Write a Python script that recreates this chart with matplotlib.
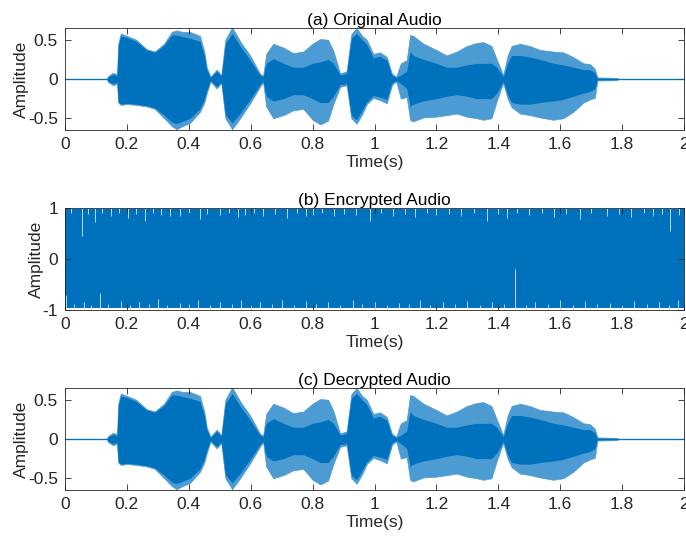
import matplotlib.pyplot as plt
import numpy as np

plt.rcParams['font.family'] = ['Liberation Sans', 'DejaVu Sans']

# envelope of the speech waveform
t_env = [0, 0.135, 0.14, 0.155, 0.168, 0.172, 0.18, 0.2, 0.23, 0.264, 0.29, 0.32, 0.345, 0.36, 0.38,
         0.404, 0.436, 0.45, 0.458, 0.47, 0.49, 0.505, 0.518, 0.54, 0.566, 0.598, 0.63, 0.64, 0.65,
         0.673, 0.706, 0.737, 0.77, 0.80, 0.825, 0.85, 0.867, 0.889, 0.91, 0.925, 0.942, 0.96, 0.975,
         0.996, 1.018, 1.04, 1.056, 1.07, 1.085, 1.104, 1.115, 1.125, 1.158, 1.2, 1.233, 1.266, 1.298,
         1.33, 1.352, 1.378, 1.395, 1.416, 1.43, 1.443, 1.47, 1.502, 1.535, 1.578, 1.61, 1.642, 1.675,
         1.696, 1.712, 1.72, 1.78, 1.79, 2.0]
peak_hi = [0.005, 0.005, 0.04, 0.08, 0.06, 0.45, 0.58, 0.55, 0.5, 0.38, 0.35, 0.45, 0.6, 0.62, 0.6,
           0.6, 0.55, 0.35, 0.15, 0.03, 0.12, 0.05, 0.5, 0.66, 0.48, 0.3, 0.07, 0.04, 0.32,
           0.45, 0.4, 0.33, 0.35, 0.45, 0.51, 0.5, 0.36, 0.07, 0.1, 0.57, 0.65, 0.55, 0.5,
           0.32, 0.34, 0.28, 0.07, 0.03, 0.2, 0.24, 0.56, 0.55, 0.45, 0.37, 0.3, 0.35, 0.42,
           0.46, 0.47, 0.42, 0.25, 0.05, 0.3, 0.42, 0.45, 0.42, 0.37, 0.35, 0.34, 0.28, 0.2,
           0.19, 0.13, 0.02, 0.015, 0.005, 0.005]
peak_lo = [-0.005, -0.005, -0.04, -0.08, -0.06, -0.3, -0.33, -0.32, -0.33, -0.35, -0.38, -0.5, -0.6, -0.64, -0.6,
           -0.56, -0.42, -0.3, -0.18, -0.03, -0.12, -0.05, -0.5, -0.64, -0.5, -0.31, -0.1, -0.04, -0.35,
           -0.5, -0.46, -0.4, -0.38, -0.52, -0.58, -0.53, -0.32, -0.1, -0.08, -0.5, -0.57, -0.45, -0.32,
           -0.24, -0.27, -0.31, -0.08, -0.03, -0.25, -0.23, -0.52, -0.54, -0.49, -0.48, -0.46, -0.44, -0.48,
           -0.5, -0.52, -0.5, -0.28, -0.05, -0.25, -0.36, -0.44, -0.46, -0.49, -0.52, -0.5, -0.42, -0.3,
           -0.26, -0.24, -0.02, -0.015, -0.005, -0.005]
core_hi = [0.003, 0.003, 0.03, 0.06, 0.04, 0.42, 0.55, 0.53, 0.48, 0.37, 0.34, 0.43, 0.56, 0.56, 0.54,
           0.52, 0.48, 0.3, 0.12, 0.02, 0.1, 0.04, 0.45, 0.58, 0.42, 0.24, 0.05, 0.03, 0.2,
           0.26, 0.2, 0.15, 0.15, 0.2, 0.22, 0.25, 0.2, 0.05, 0.07, 0.52, 0.58, 0.5, 0.44,
           0.27, 0.29, 0.24, 0.05, 0.02, 0.05, 0.1, 0.35, 0.3, 0.25, 0.2, 0.15, 0.15, 0.18,
           0.2, 0.2, 0.2, 0.15, 0.03, 0.2, 0.3, 0.3, 0.28, 0.25, 0.2, 0.18, 0.15, 0.12,
           0.12, 0.08, 0.01, 0.01, 0.003, 0.003]
core_lo = [-0.003, -0.003, -0.03, -0.06, -0.04, -0.29, -0.32, -0.31, -0.32, -0.34, -0.37, -0.46, -0.55, -0.57, -0.54,
           -0.5, -0.38, -0.26, -0.15, -0.02, -0.1, -0.04, -0.45, -0.56, -0.44, -0.26, -0.07, -0.03, -0.22,
           -0.28, -0.25, -0.2, -0.2, -0.25, -0.3, -0.3, -0.22, -0.07, -0.06, -0.46, -0.52, -0.4, -0.29,
           -0.21, -0.23, -0.26, -0.05, -0.02, -0.06, -0.12, -0.35, -0.32, -0.28, -0.25, -0.22, -0.2, -0.22,
           -0.25, -0.25, -0.25, -0.18, -0.03, -0.2, -0.3, -0.32, -0.32, -0.3, -0.28, -0.26, -0.22, -0.18,
           -0.16, -0.12, -0.01, -0.01, -0.003, -0.003]

# encrypted signal: nearly full range, with thin notches at both edges
enc_t = [0, 2]
enc_hi = [0.975, 0.975]
enc_lo = [-0.955, -0.955]
notch_top_t = [0.02, 0.054, 0.075, 0.097, 0.12, 0.15, 0.175, 0.205, 0.23, 0.258, 0.285, 0.31, 0.34, 0.37,
               0.4, 0.436, 0.46, 0.5, 0.53, 0.56, 0.58, 0.61, 0.64, 0.68, 0.716, 0.75, 0.78, 0.8, 0.83,
               0.87, 0.9, 0.94, 0.985, 1.02, 1.06, 1.1, 1.13, 1.17, 1.2, 1.24, 1.28, 1.32, 1.362, 1.4,
               1.427, 1.46, 1.5, 1.54, 1.58, 1.62, 1.664, 1.7, 1.75, 1.79, 1.83, 1.87, 1.9, 1.93, 1.955, 1.985]
notch_top_v = [0.9, 0.45, 0.88, 0.72, 0.9, 0.85, 0.9, 0.8, 0.88, 0.75, 0.9, 0.86, 0.84, 0.85,
               0.9, 0.78, 0.88, 0.86, 0.9, 0.82, 0.86, 0.9, 0.84, 0.88, 0.8, 0.9, 0.85, 0.86, 0.9,
               0.84, 0.88, 0.86, 0.75, 0.9, 0.85, 0.88, 0.82, 0.9, 0.86, 0.88, 0.84, 0.9, 0.75, 0.88,
               0.8, 0.9, 0.86, 0.9, 0.83, 0.88, 0.78, 0.9, 0.85, 0.88, 0.82, 0.9, 0.85, 0.88, 0.55, 0.86]
notch_bot_t = [0.003, 0.03, 0.06, 0.085, 0.113, 0.14, 0.18, 0.21, 0.24, 0.27, 0.3, 0.33, 0.37, 0.4, 0.43,
               0.47, 0.5, 0.54, 0.57, 0.6, 0.63, 0.67, 0.7, 0.74, 0.78, 0.81, 0.85, 0.89, 0.93, 0.96,
               1.0, 1.04, 1.08, 1.11, 1.147, 1.18, 1.22, 1.26, 1.3, 1.34, 1.38, 1.42, 1.454, 1.49, 1.52,
               1.56, 1.6, 1.64, 1.68, 1.72, 1.76, 1.8, 1.84, 1.88, 1.92, 1.95, 1.98]
notch_bot_v = [-0.7, -0.88, -0.85, -0.9, -0.67, -0.88, -0.82, -0.9, -0.85, -0.88, -0.78, -0.9, -0.86, -0.88, -0.8,
               -0.9, -0.84, -0.88, -0.8, -0.9, -0.85, -0.88, -0.8, -0.9, -0.83, -0.88, -0.85, -0.9, -0.8, -0.88,
               -0.84, -0.9, -0.86, -0.88, -0.8, -0.9, -0.85, -0.88, -0.82, -0.9, -0.84, -0.88, -0.2, -0.9, -0.85,
               -0.88, -0.8, -0.9, -0.83, -0.88, -0.86, -0.9, -0.82, -0.88, -0.85, -0.9, -0.8]

blue = '#0072BD'
light = '#4C9BD2'
ax_col = '#262626'

fig = plt.figure(figsize=(6.86, 5.38), dpi=100)
left, width, height = 65 / 686, 619 / 686, 102 / 538
bottoms = [1 - 130 / 538, 1 - 310 / 538, 1 - 490 / 538]
titles = ['(a) Original Audio', '(b) Encrypted Audio', '(c) Decrypted Audio']

for i, (b, title) in enumerate(zip(bottoms, titles)):
    ax = fig.add_axes([left, b, width, height])
    if i == 1:
        ax.fill_between(enc_t, enc_lo, enc_hi, color=blue, lw=0)
        ax.vlines(notch_top_t, notch_top_v, 1, color='#d6e8f5', lw=0.6)
        ax.vlines(notch_bot_t, -1, notch_bot_v, color='#d6e8f5', lw=0.6)
        ax.set_ylim(-1, 1)
        ax.set_yticks([-1, 0, 1])
        ax.set_yticklabels(['-1', '0', '1'])
    else:
        ax.fill_between(t_env, peak_lo, peak_hi, color=light, lw=0.5, edgecolor=light)
        ax.fill_between(t_env, core_lo, core_hi, color=blue, lw=0)
        ax.plot([0, 2], [0, 0], color=blue, lw=0.6)
        ax.set_ylim(-0.65, 0.65)
        ax.set_yticks([-0.5, 0, 0.5])
        ax.set_yticklabels(['-0.5', '0', '0.5'])
    ax.set_xlim(0, 2)
    ax.set_xticks([0, 0.2, 0.4, 0.6, 0.8, 1, 1.2, 1.4, 1.6, 1.8, 2])
    ax.set_xticklabels(['0', '0.2', '0.4', '0.6', '0.8', '1', '1.2', '1.4', '1.6', '1.8', '2'])
    ax.tick_params(direction='in', top=True, right=True, length=4, width=0.6,
                   color=ax_col, labelcolor=ax_col, labelsize=12.5, pad=5)
    for s in ax.spines.values():
        s.set_color(ax_col)
        s.set_linewidth(0.6)
    ax.set_title(title, fontsize=12.5, pad=2)
    ax.set_xlabel('Time(s)', fontsize=12.5, color=ax_col, labelpad=2)
    ax.set_ylabel('Amplitude', fontsize=12.5, color=ax_col, labelpad=-1)

fig.savefig('out.png', dpi=100)
